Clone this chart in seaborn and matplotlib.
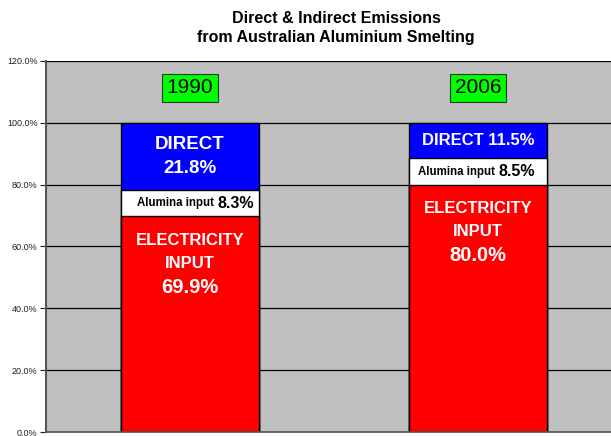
import numpy as np
import pandas as pd
import seaborn as sns
import matplotlib.pyplot as plt
from matplotlib.ticker import FuncFormatter

# data
years = ["1990", "2006"]
electricity = [69.9, 80.0]
alumina = [8.3, 8.5]
direct = [21.8, 11.5]

sns.set_theme(style="white")
plt.rcParams['font.family'] = ['Liberation Sans', 'DejaVu Sans']

df = pd.DataFrame({"year": years, "electricity": electricity,
                   "alumina": alumina, "direct": direct})
df["elec_alu"] = df["electricity"] + df["alumina"]
df["total"] = df["elec_alu"] + df["direct"]

fig = plt.figure(figsize=(6.11, 4.36), dpi=100)
ax = fig.add_axes([46/611, 4/436, 576/611, 371/436])
ax.set_facecolor("#C0C0C0")

# gridlines behind the bars
for y in np.arange(20, 121, 20):
    ax.axhline(y, color="black", lw=0.9, zorder=0)

# stacked bars: draw cumulative totals from the top down
w = 0.48
sns.barplot(data=df, x="year", y="total", color="#0000FF", width=w,
            edgecolor="black", linewidth=1, saturation=1, ax=ax, zorder=2)
sns.barplot(data=df, x="year", y="elec_alu", color="white", width=w,
            edgecolor="black", linewidth=1, saturation=1, ax=ax, zorder=2)
sns.barplot(data=df, x="year", y="electricity", color="#FF0000", width=w,
            edgecolor="black", linewidth=1, saturation=1, ax=ax, zorder=2)

ax.set_ylim(0, 120)
ax.set_xlim(-0.5, 1.5)
ax.set_yticks(np.arange(0, 121, 20))
ax.yaxis.set_major_formatter(FuncFormatter(lambda v, p: f"{v:.1f}%"))
ax.tick_params(axis="y", labelsize=6.5, colors="#222222", length=4, width=0.8,
               direction="out", left=True, pad=2)
ax.tick_params(axis="x", bottom=False, labelbottom=False)
ax.set_xlabel("")
ax.set_ylabel("")
for s in ["top", "right"]:
    ax.spines[s].set_visible(False)
ax.spines["left"].set_color("#555555")
ax.spines["left"].set_linewidth(1.5)
ax.spines["bottom"].set_color("#555555")

# year labels in green boxes
for i, yr in enumerate(years):
    ax.text(i, 111.3, yr, ha="center", va="center", fontsize=15, color="black",
            bbox=dict(boxstyle="square,pad=0.22", fc="#00FF00", ec="#333333", lw=0.8),
            zorder=5)

# segment labels
ax.text(0, direct[0] / 2 + alumina[0] + electricity[0], "DIRECT\n21.8%",
        ha="center", va="center", color="white", fontsize=13.5, fontweight="bold",
        linespacing=1.55, zorder=5)
ax.text(1, direct[1] / 2 + alumina[1] + electricity[1], f"DIRECT {direct[1]:.1f}%",
        ha="center", va="center", color="white", fontsize=12, fontweight="bold", zorder=5)

for i in range(2):
    ymid = electricity[i] + alumina[i] / 2
    split = 0.095 if i == 0 else 0.07
    ax.text(i + split, ymid, "Alumina input ", ha="right", va="center",
            fontsize=8.3, fontweight="bold", color="black", zorder=5)
    ax.text(i + split, ymid, f"{alumina[i]:.1f}%", ha="left", va="center",
            fontsize=11.5, fontweight="bold", color="black", zorder=5)

elec_y = [58.2, 68.6]
for i in range(2):
    ax.text(i, elec_y[i], "ELECTRICITY\nINPUT", ha="center", va="center",
            color="white", fontsize=12, fontweight="bold", linespacing=1.65, zorder=5)
    ax.text(i, elec_y[i] - 11.6, f"{electricity[i]:.1f}%", ha="center", va="center",
            color="white", fontsize=14.5, fontweight="bold", zorder=5)

fig.text(336/611, 1 - 28/436, "Direct & Indirect Emissions\nfrom Australian Aluminium Smelting",
         ha="center", va="center", fontsize=11.5, fontweight="bold", linespacing=1.35,
         color="black")

fig.savefig("out.png", dpi=100)
